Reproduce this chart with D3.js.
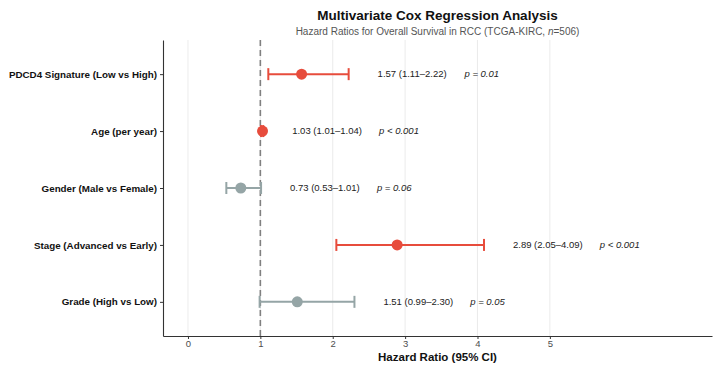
<!DOCTYPE html>
<html><head><meta charset="utf-8">
<script src="https://cdn.jsdelivr.net/npm/d3@7"></script>
<style>body{margin:0;background:#fff;} text{font-family:"Liberation Sans",Arial,Helvetica,sans-serif;}</style>
</head><body><svg id="c" width="718" height="366"></svg>
<script>
const variables = ["PDCD4 Signature (Low vs High)","Age (per year)","Gender (Male vs Female)","Stage (Advanced vs Early)","Grade (High vs Low)"];
const hr    = [1.57, 1.03, 0.73, 2.89, 1.51];
const lower = [1.11, 1.01, 0.53, 2.05, 0.99];
const upper = [2.22, 1.04, 1.01, 4.09, 2.30];
const pText = ["p = 0.01","p < 0.001","p = 0.06","p < 0.001","p = 0.05"];
const significant = [true, true, false, true, false];
const xTicks = [0,1,2,3,4,5];

const svg = d3.select("#c");
const m = {l:163, r:712, t:40, b:336};
const x = d3.scaleLinear().domain([-0.345, 7.24]).range([m.l, m.r]);
const y = d3.scalePoint().domain(variables).range([m.t, m.b]).padding(0.6);
const col = s => s ? "#E74C3C" : "#95A5A6";
const fmt = d3.format(".2f");

// grid
svg.append("g").selectAll("line").data(xTicks).join("line")
  .attr("x1", d=>x(d)).attr("x2", d=>x(d)).attr("y1", m.t).attr("y2", m.b)
  .attr("stroke", "#e6e6e6").attr("stroke-width", 0.8);

// reference line
svg.append("line").attr("x1", x(1)).attr("x2", x(1)).attr("y1", m.t).attr("y2", m.b)
  .attr("stroke", "#808080").attr("stroke-width", 1.6).attr("stroke-dasharray", "6,4");

const rows = variables.map((v,i)=>({v, hr:hr[i], lo:lower[i], hi:upper[i], p:pText[i], s:significant[i]}));
const g = svg.append("g");
const r = g.selectAll("g").data(rows).join("g");
r.append("line").attr("x1", d=>x(d.lo)).attr("x2", d=>x(d.hi)).attr("y1", d=>y(d.v)).attr("y2", d=>y(d.v))
  .attr("stroke", d=>col(d.s)).attr("stroke-width", 2);
r.append("line").attr("x1", d=>x(d.lo)).attr("x2", d=>x(d.lo)).attr("y1", d=>y(d.v)-6).attr("y2", d=>y(d.v)+6)
  .attr("stroke", d=>col(d.s)).attr("stroke-width", 2);
r.append("line").attr("x1", d=>x(d.hi)).attr("x2", d=>x(d.hi)).attr("y1", d=>y(d.v)-6).attr("y2", d=>y(d.v)+6)
  .attr("stroke", d=>col(d.s)).attr("stroke-width", 2);
r.append("circle").attr("cx", d=>x(d.hr)).attr("cy", d=>y(d.v)).attr("r", 5.5).attr("fill", d=>col(d.s));
r.append("text").attr("x", d=>x(d.hi+0.4)).attr("y", d=>y(d.v)).attr("dy","0.35em")
  .attr("font-size", 9.5).attr("fill", "#222")
  .text(d=>`${fmt(d.hr)} (${fmt(d.lo)}\u2013${fmt(d.hi)})`);
r.append("text").attr("x", d=>x(d.hi+1.6)).attr("y", d=>y(d.v)).attr("dy","0.35em")
  .attr("font-size", 9.5).attr("fill", "#222").attr("font-style","italic")
  .text(d=>d.p);

// axes
const xa = svg.append("g").attr("transform", `translate(0,${m.b})`)
  .call(d3.axisBottom(x).tickValues(xTicks).tickSize(3).tickSizeOuter(0).tickFormat(d3.format("d")));
xa.select(".domain").attr("stroke", "#333").attr("stroke-width", 1.1);
xa.selectAll(".tick line").attr("stroke", "#333");
xa.selectAll(".tick text").attr("font-size", 9.5).attr("fill", "#4d4d4d").attr("y", 4).attr("dy", "0.71em");

const ya = svg.append("g").attr("transform", `translate(${m.l},0)`)
  .call(d3.axisLeft(y).tickSize(3).tickSizeOuter(0));
ya.select(".domain").attr("stroke", "#333").attr("stroke-width", 1.1);
ya.selectAll(".tick line").attr("stroke", "#333");
ya.selectAll(".tick text").attr("font-size", 9.8).attr("font-weight", "bold").attr("fill", "#111").attr("x", -6);

// titles
const cx = (m.l + m.r)/2;
svg.append("text").attr("x", cx).attr("y", 20).attr("text-anchor","middle")
  .attr("font-size", 13.5).attr("font-weight","bold").attr("fill","#111")
  .text("Multivariate Cox Regression Analysis");
const st = svg.append("text").attr("x", cx).attr("y", 35).attr("text-anchor","middle")
  .attr("font-size", 10).attr("fill","#555");
st.append("tspan").text("Hazard Ratios for Overall Survival in RCC (TCGA-KIRC, ");
st.append("tspan").attr("font-style","italic").text("n");
st.append("tspan").text("=506)");
svg.append("text").attr("x", cx).attr("y", 361).attr("text-anchor","middle")
  .attr("font-size", 11.5).attr("font-weight","bold").attr("fill","#111")
  .text("Hazard Ratio (95% CI)");
</script></body></html>
